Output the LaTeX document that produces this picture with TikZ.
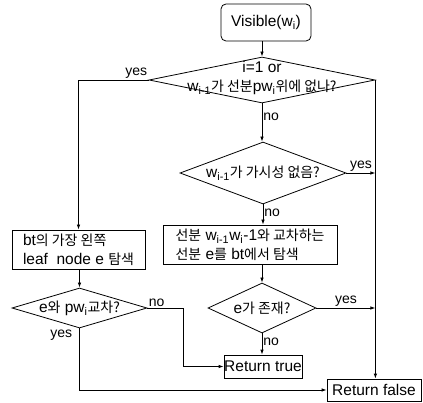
\documentclass[tikz,border=0pt]{standalone}
\usepackage{fontspec}
\setmainfont{Liberation Sans}
\newfontfamily\kr[Scale=0.9]{Noto Sans CJK KR}
\usetikzlibrary{shapes.geometric,arrows.meta,calc}
\newcommand{\K}[1]{{\kr #1}}
\newcommand{\sbs}[1]{\textsubscript{#1}}
\begin{document}
\begin{tikzpicture}[x=1pt,y=-1pt, line width=0.8pt,
  every node/.style={font=\fontsize{15.5}{19}\selectfont},
  dia/.style={draw, diamond, inner sep=0pt},
  proc/.style={draw, rectangle, inner sep=0pt},
  arr/.style={-{Latex[length=5pt,width=3.5pt]}},
  lbl/.style={font=\fontsize{14}{16}\selectfont, inner sep=1pt}]
\useasboundingbox (0,0) rectangle (423,403);
% nodes
\node[draw, rounded corners=5pt, minimum width=90, minimum height=37, inner sep=0pt] (vis) at (266,22.5) {Visible(w\sbs{i})};
\node[dia, minimum width=226, minimum height=46] (d1) at (262,80) {};
\node[align=center] (t1) at (262,78) {i=1 or\\w\sbs{i-1}\K{가 선분}pw\sbs{i}\K{위에 없나?}};
\node[dia, minimum width=166, minimum height=62] (d2) at (263,173) {};
\node (t2) at (263,173) {w\sbs{i-1}\K{가 가시성 없음?}};
\node[proc, minimum width=174, minimum height=39] (b2) at (250,244.5) {};
\node[align=left] (t3) at (b2) {\K{선분} w\sbs{i-1}w\sbs{i}-1\K{와 교차하는}\\\K{선분} e\K{를} bt\K{에서 탐색}};
\node[proc, minimum width=133, minimum height=39] (lb) at (78.5,249.5) {};
\node[align=left] (t4) at (lb) {bt\K{의 가장 왼쪽}\\leaf\ \ node e \K{탐색}};
\node[dia, minimum width=135, minimum height=40] (d3) at (79.5,308) {};
\node (t5) at (d3) {e\K{와} pw\sbs{i}\K{교차?}};
\node[dia, minimum width=108, minimum height=50] (d4) at (262,308) {};
\node (t6) at (d4) {e\K{가 존재?}};
\node[proc, minimum width=78, minimum height=23] (rt) at (263,366.5) {Return true};
\node[proc, minimum width=94, minimum height=22] (rf) at (374,390) {Return false};
\coordinate (c3) at (183,308);
% connectors
\draw[arr] (vis.south -| d1.north) -- (d1.north);
\draw[arr] (d1.south) -- node[lbl, right, pos=0.35]{no} (d2.north -| d1.south);
\draw[arr] (d1.west) -| node[lbl, above left, pos=0]{yes} (lb.north);
\draw[arr] (d1.east) -- (d1.east |- rf.north);
\draw[arr] (d2.east) -- node[lbl, above]{yes} (d2.east -| d1.east);
\draw[arr] (d2.south) -- node[lbl, right, pos=0.4]{no} (d2.south |- b2.north);
\draw[arr] (b2.south -| d4.north) -- (d4.north);
\draw[arr] (d4.east) -- node[lbl, above]{yes} (d4.east -| d1.east);
\draw[arr] (d4.south) -- node[lbl, right, pos=0.4]{no} (d4.south |- rt.north);
\draw[arr] (lb.south -| d3.north) -- (d3.north);
\draw[arr] (d3.east) -- node[lbl, above right, pos=0]{no} (c3) |- (rt.west);
\draw[arr] (d3.south) |- node[lbl, below left, pos=0, xshift=-6pt]{yes} (rf.west);
\end{tikzpicture}
\end{document}
